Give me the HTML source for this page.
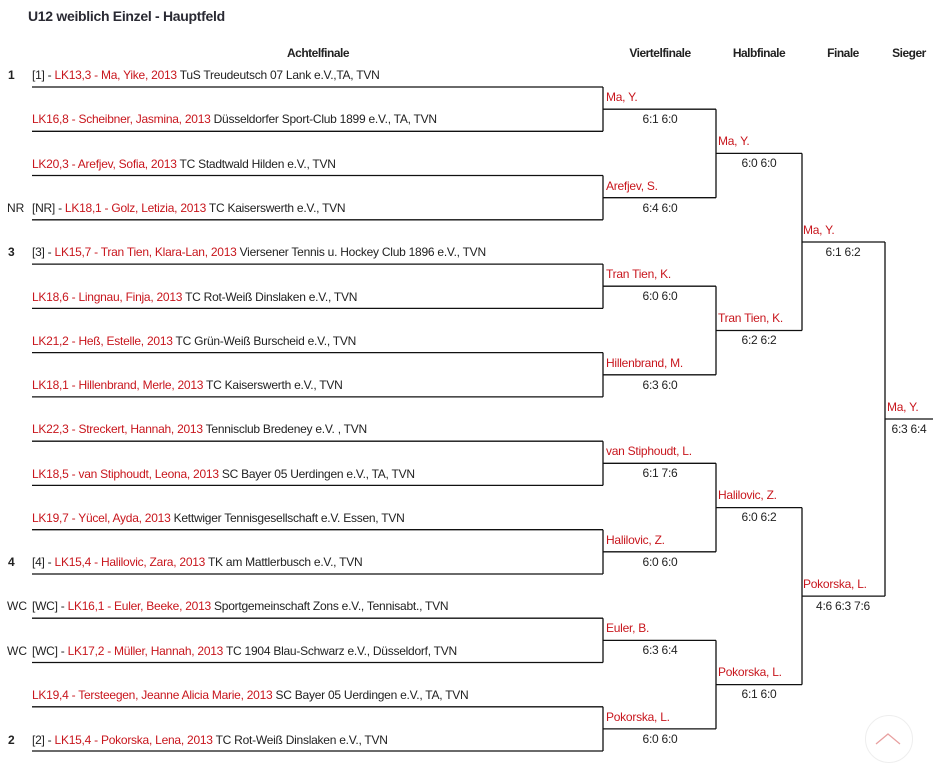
<!DOCTYPE html>
<html><head><meta charset="utf-8"><style>
body{margin:0;width:946px;height:764px;background:#fff;position:relative;overflow:hidden;font-family:"Liberation Sans",sans-serif;color:#222}
.t{position:absolute;font-size:12px;line-height:16px;white-space:nowrap;letter-spacing:-0.25px}
.r{color:#c8161d}
.h{position:absolute;font-size:12px;font-weight:bold;line-height:16px;top:45px;letter-spacing:-0.5px;transform:translateX(-50%)}
.s{position:absolute;font-size:12px;line-height:16px;left:7px}
.b{font-weight:bold}
.c{transform:translateX(-50%)}
</style></head><body>
<div style="position:absolute;left:28px;top:8px;font-size:14px;font-weight:bold;color:#2a2a33;letter-spacing:-0.3px">U12 weiblich Einzel - Hauptfeld</div>
<div class="h" style="left:318px">Achtelfinale</div>
<div class="h" style="left:660px">Viertelfinale</div>
<div class="h" style="left:759px">Halbfinale</div>
<div class="h" style="left:843px">Finale</div>
<div class="h" style="left:909px">Sieger</div>
<svg width="946" height="764" style="position:absolute;left:0;top:0" stroke="#111" stroke-width="1.3" fill="none">
<path d="M32 87H603M32 131.3H603M32 175.5H603M32 219.8H603M32 264.1H603M32 308.4H603M32 352.6H603M32 396.9H603M32 441.2H603M32 485.4H603M32 529.7H603M32 574H603M32 618.2H603M32 662.5H603M32 706.8H603M32 751H603"/>
<path d="M603 87V131.3M603 175.5V219.8M603 264.1V308.4M603 352.6V396.9M603 441.2V485.4M603 529.7V574M603 618.2V662.5M603 706.8V751"/>
<path d="M603 109.2H716M603 197.7H716M603 286.2H716M603 374.8H716M603 463.3H716M603 551.8H716M603 640.4H716M603 728.9H716"/>
<path d="M716 109.2V197.7M716 286.2V374.8M716 463.3V551.8M716 640.4V728.9"/>
<path d="M716 153.4H802M716 330.5H802M716 507.6H802M716 684.6H802M802 153.4V330.5M802 507.6V684.6"/>
<path d="M802 242H885M802 596.1H885M885 242V596.1M885 419H933"/>
</svg>
<div class="s b" style="top:67px;left:8px">1</div>
<div class="s" style="top:200px">NR</div>
<div class="s b" style="top:244px;left:8px">3</div>
<div class="s b" style="top:554px;left:8px">4</div>
<div class="s" style="top:598px">WC</div>
<div class="s" style="top:643px">WC</div>
<div class="s b" style="top:732px;left:8px">2</div>

<div class="t" style="left:32px;top:67px">[1] - <span class="r">LK13,3 - Ma, Yike, 2013</span> TuS Treudeutsch 07 Lank e.V.,TA, TVN</div>
<div class="t" style="left:32px;top:111px"><span class="r">LK16,8 - Scheibner, Jasmina, 2013</span> Düsseldorfer Sport-Club 1899 e.V., TA, TVN</div>
<div class="t" style="left:32px;top:156px"><span class="r">LK20,3 - Arefjev, Sofia, 2013</span> TC Stadtwald Hilden e.V., TVN</div>
<div class="t" style="left:32px;top:200px">[NR] - <span class="r">LK18,1 - Golz, Letizia, 2013</span> TC Kaiserswerth e.V., TVN</div>
<div class="t" style="left:32px;top:244px">[3] - <span class="r">LK15,7 - Tran Tien, Klara-Lan, 2013</span> Viersener Tennis u. Hockey Club 1896 e.V., TVN</div>
<div class="t" style="left:32px;top:289px"><span class="r">LK18,6 - Lingnau, Finja, 2013</span> TC Rot-Weiß Dinslaken e.V., TVN</div>
<div class="t" style="left:32px;top:333px"><span class="r">LK21,2 - Heß, Estelle, 2013</span> TC Grün-Weiß Burscheid e.V., TVN</div>
<div class="t" style="left:32px;top:377px"><span class="r">LK18,1 - Hillenbrand, Merle, 2013</span> TC Kaiserswerth e.V., TVN</div>
<div class="t" style="left:32px;top:421px"><span class="r">LK22,3 - Streckert, Hannah, 2013</span> Tennisclub Bredeney e.V. , TVN</div>
<div class="t" style="left:32px;top:466px"><span class="r">LK18,5 - van Stiphoudt, Leona, 2013</span> SC Bayer 05 Uerdingen e.V., TA, TVN</div>
<div class="t" style="left:32px;top:510px"><span class="r">LK19,7 - Yücel, Ayda, 2013</span> Kettwiger Tennisgesellschaft e.V. Essen, TVN</div>
<div class="t" style="left:32px;top:554px">[4] - <span class="r">LK15,4 - Halilovic, Zara, 2013</span> TK am Mattlerbusch e.V., TVN</div>
<div class="t" style="left:32px;top:598px">[WC] - <span class="r">LK16,1 - Euler, Beeke, 2013</span> Sportgemeinschaft Zons e.V., Tennisabt., TVN</div>
<div class="t" style="left:32px;top:643px">[WC] - <span class="r">LK17,2 - Müller, Hannah, 2013</span> TC 1904 Blau-Schwarz e.V., Düsseldorf, TVN</div>
<div class="t" style="left:32px;top:687px"><span class="r">LK19,4 - Tersteegen, Jeanne Alicia Marie, 2013</span> SC Bayer 05 Uerdingen e.V., TA, TVN</div>
<div class="t" style="left:32px;top:732px">[2] - <span class="r">LK15,4 - Pokorska, Lena, 2013</span> TC Rot-Weiß Dinslaken e.V., TVN</div>

<div class="t r" style="left:606px;top:89px">Ma, Y.</div><div class="t c" style="left:660px;top:111px">6:1 6:0</div>
<div class="t r" style="left:606px;top:178px">Arefjev, S.</div><div class="t c" style="left:660px;top:200px">6:4 6:0</div>
<div class="t r" style="left:606px;top:266px">Tran Tien, K.</div><div class="t c" style="left:660px;top:288px">6:0 6:0</div>
<div class="t r" style="left:606px;top:355px">Hillenbrand, M.</div><div class="t c" style="left:660px;top:377px">6:3 6:0</div>
<div class="t r" style="left:606px;top:443px">van Stiphoudt, L.</div><div class="t c" style="left:660px;top:465px">6:1 7:6</div>
<div class="t r" style="left:606px;top:532px">Halilovic, Z.</div><div class="t c" style="left:660px;top:554px">6:0 6:0</div>
<div class="t r" style="left:606px;top:620px">Euler, B.</div><div class="t c" style="left:660px;top:642px">6:3 6:4</div>
<div class="t r" style="left:606px;top:709px">Pokorska, L.</div><div class="t c" style="left:660px;top:731px">6:0 6:0</div>

<div class="t r" style="left:718px;top:133px">Ma, Y.</div><div class="t c" style="left:759px;top:155px">6:0 6:0</div>
<div class="t r" style="left:718px;top:310px">Tran Tien, K.</div><div class="t c" style="left:759px;top:332px">6:2 6:2</div>
<div class="t r" style="left:718px;top:487px">Halilovic, Z.</div><div class="t c" style="left:759px;top:509px">6:0 6:2</div>
<div class="t r" style="left:718px;top:664px">Pokorska, L.</div><div class="t c" style="left:759px;top:686px">6:1 6:0</div>

<div class="t r" style="left:803px;top:222px">Ma, Y.</div><div class="t c" style="left:843px;top:244px">6:1 6:2</div>
<div class="t r" style="left:803px;top:576px">Pokorska, L.</div><div class="t c" style="left:843px;top:598px">4:6 6:3 7:6</div>

<div class="t r" style="left:887px;top:399px">Ma, Y.</div><div class="t c" style="left:909px;top:421px">6:3 6:4</div>

<div style="position:absolute;left:865px;top:715px;width:46px;height:46px;border:1px solid #eee;border-radius:50%"></div>
<svg width="30" height="16" style="position:absolute;left:873px;top:731px"><path d="M3 13L15 3L27 13" stroke="#e8a0a0" stroke-width="1.3" fill="none"/></svg>
</body></html>
